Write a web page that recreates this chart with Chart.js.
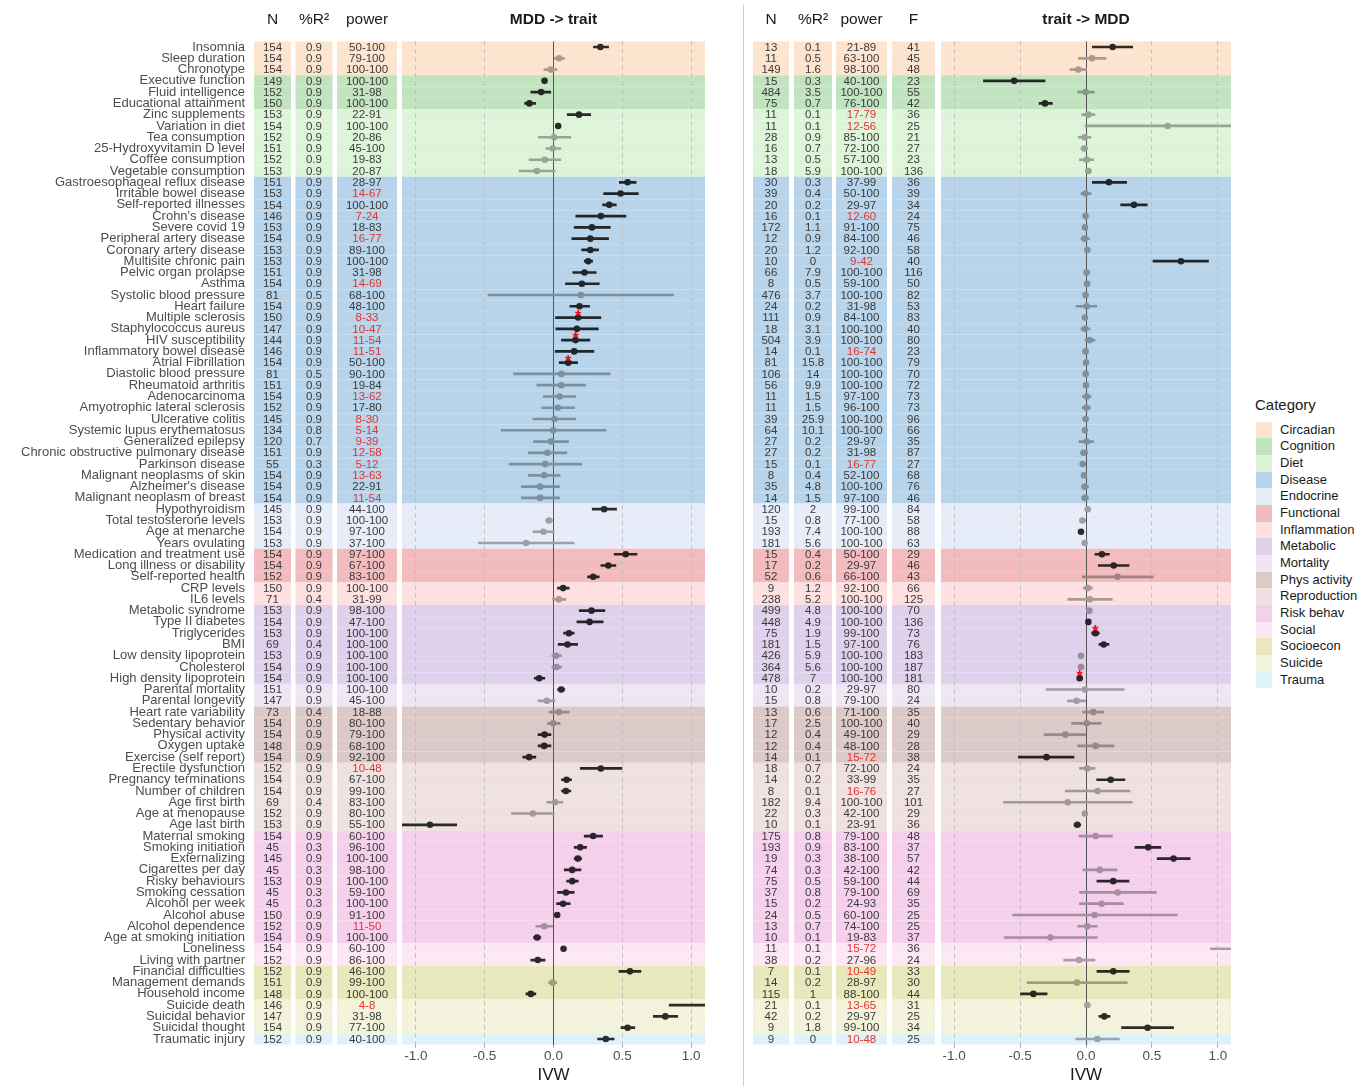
<!DOCTYPE html>
<html>
<head>
<meta charset="utf-8">
<script src="https://cdn.jsdelivr.net/npm/chart.js@4.4.1/dist/chart.umd.min.js"></script>
<style>
  body { margin: 0; background: #fff; font-family: "Liberation Sans", Arial, Helvetica, sans-serif; }
  #wrap { position: relative; width: 1371px; height: 1086px; overflow: hidden; }
  canvas { position: absolute; top: 0; }
  #left { left: 0; }
  #right { left: 745px; }
  #sep { position: absolute; left: 743px; top: 4px; width: 1px; height: 1082px; background: #d0d0d0; }
  #legend { position: absolute; left: 1255px; top: 396px; color: #1a1a1a; width: 116px; height: 300px; }
  #legend .lt { position: absolute; left: 0; top: 0; font-size: 15px; line-height: 18px; white-space: nowrap; }
  #legend .it { position: absolute; left: 0; height: 16.67px; width: 116px; }
  #legend .sw { position: absolute; left: 1px; top: 0; width: 16px; height: 16.67px; }
  #legend .tx { position: absolute; left: 25px; top: 0; font-size: 13px; line-height: 16.67px; white-space: nowrap; }
</style>
</head>
<body>
<div id="wrap">
  <canvas id="left" width="712" height="1086"></canvas>
  <div id="sep"></div>
  <canvas id="right" width="490" height="1086"></canvas>
  <div id="legend"></div>
</div>
<script>
// ---- data ----
var traits = [
  "Insomnia", "Sleep duration", "Chronotype",
  "Executive function", "Fluid intelligence", "Educational attainment",
  "Zinc supplements", "Variation in diet", "Tea consumption", "25-Hydroxyvitamin D level", "Coffee consumption", "Vegetable consumption",
  "Gastroesophageal reflux disease", "Irritable bowel disease", "Self-reported illnesses", "Crohn's disease", "Severe covid 19",
  "Peripheral artery disease", "Coronary artery disease", "Multisite chronic pain", "Pelvic organ prolapse", "Asthma",
  "Systolic blood pressure", "Heart failure", "Multiple sclerosis", "Staphylococcus aureus", "HIV susceptibility",
  "Inflammatory bowel disease", "Atrial Fibrillation", "Diastolic blood pressure", "Rheumatoid arthritis", "Adenocarcinoma",
  "Amyotrophic lateral sclerosis", "Ulcerative colitis", "Systemic lupus erythematosus", "Generalized epilepsy",
  "Chronic obstructive pulmonary disease", "Parkinson disease", "Malignant neoplasms of skin", "Alzheimer's disease",
  "Malignant neoplasm of breast",
  "Hypothyroidism", "Total testosterone levels", "Age at menarche", "Years ovulating",
  "Medication and treatment use", "Long illness or disability", "Self-reported health",
  "CRP levels", "IL6 levels",
  "Metabolic syndrome", "Type II diabetes", "Triglycerides", "BMI", "Low density lipoprotein", "Cholesterol", "High density lipoprotein",
  "Parental mortality", "Parental longevity",
  "Heart rate variability", "Sedentary behavior", "Physical activity", "Oxygen uptake", "Exercise (self report)",
  "Erectile dysfunction", "Pregnancy terminations", "Number of children", "Age first birth", "Age at menopause", "Age last birth",
  "Maternal smoking", "Smoking initiation", "Externalizing", "Cigarettes per day", "Risky behaviours", "Smoking cessation",
  "Alcohol per week", "Alcohol abuse", "Alcohol dependence", "Age at smoking initiation",
  "Loneliness", "Living with partner",
  "Financial difficulties", "Management demands", "Household income",
  "Suicide death", "Suicidal behavior", "Suicidal thought",
  "Traumatic injury"
];

var categoryNames = ["Circadian", "Cognition", "Diet", "Disease", "Endocrine", "Functional", "Inflammation", "Metabolic",
  "Mortality", "Phys activity", "Reproduction", "Risk behav", "Social", "Socioecon", "Suicide", "Trauma"];
var categorySizes = [3, 3, 6, 29, 4, 3, 2, 7, 2, 5, 6, 10, 2, 3, 3, 1];
var categoryColors = ["#fde4cf", "#c1e3bf", "#def4d9", "#b8d4ea", "#e6edf8", "#f2bcbe", "#fde0e1", "#dfd0eb",
  "#ede6f3", "#dccac8", "#efe1df", "#f5d0ec", "#fce7f3", "#e9e8bd", "#f3f3dc", "#dff2f8"];

var xTicks = [-1, -0.5, 0, 0.5, 1];

// MDD -> trait
var mddN = [154,154,154,149,152,150,153,154,152,151,152,153,151,153,154,146,153,154,153,153,151,154,81,154,150,147,144,146,154,81,
  151,154,152,145,134,120,151,55,154,154,154,145,153,154,153,154,154,152,150,71,153,154,153,69,153,154,154,151,147,73,
  154,154,148,154,152,154,154,69,152,153,154,45,145,45,153,45,45,150,152,154,154,152,152,151,148,146,147,154,152];
var mddR2 = [0.9,0.9,0.9,0.9,0.9,0.9,0.9,0.9,0.9,0.9,0.9,0.9,0.9,0.9,0.9,0.9,0.9,0.9,0.9,0.9,0.9,0.9,0.5,0.9,0.9,0.9,0.9,0.9,0.9,0.5,
  0.9,0.9,0.9,0.9,0.8,0.7,0.9,0.3,0.9,0.9,0.9,0.9,0.9,0.9,0.9,0.9,0.9,0.9,0.9,0.4,0.9,0.9,0.9,0.4,0.9,0.9,0.9,0.9,0.9,0.4,
  0.9,0.9,0.9,0.9,0.9,0.9,0.9,0.4,0.9,0.9,0.9,0.3,0.9,0.3,0.9,0.3,0.3,0.9,0.9,0.9,0.9,0.9,0.9,0.9,0.9,0.9,0.9,0.9,0.9];
var mddPower = ["50-100","79-100","100-100","100-100","31-98","100-100","22-91","100-100","20-86","45-100","19-83","20-87",
  "28-97","14-67","100-100","7-24","18-83","16-77","89-100","100-100","31-98","14-69","68-100","48-100","8-33","10-47","11-54",
  "11-51","50-100","90-100","19-84","13-62","17-80","8-30","5-14","9-39","12-58","5-12","13-63","22-91","11-54",
  "44-100","100-100","97-100","37-100","97-100","67-100","83-100","100-100","31-99","98-100","47-100","100-100","100-100",
  "100-100","100-100","100-100","100-100","45-100","18-88","80-100","79-100","68-100","92-100","10-48","67-100","99-100",
  "83-100","80-100","55-100","60-100","96-100","100-100","98-100","100-100","59-100","100-100","91-100","11-50","100-100",
  "60-100","86-100","46-100","99-100","100-100","4-8","31-98","77-100","40-100"];
var mddEst = [0.34,0.04,-0.02,-0.065,-0.09,-0.175,0.185,0.034,0.005,-0.005,-0.063,-0.12,
  0.538,0.487,0.405,0.344,0.279,0.267,0.267,0.252,0.225,0.206,0.199,0.189,0.179,0.17,0.16,0.15,0.107,0.058,0.056,0.044,
  0.032,0.007,-0.002,-0.019,-0.044,-0.061,-0.068,-0.097,-0.097,
  0.368,-0.032,-0.073,-0.199,0.524,0.398,0.288,0.07,0.039,0.276,0.262,0.112,0.102,0.019,0.022,-0.104,0.056,-0.048,
  0.039,-0.002,-0.065,-0.068,-0.177,0.344,0.095,0.09,0.01,-0.15,-0.897,
  0.288,0.194,0.177,0.136,0.136,0.09,0.07,0.027,-0.068,-0.119,0.073,-0.114,0.555,-0.007,-0.165,1.3,0.812,0.538,0.38];
var mddLo = [0.29,0.005,-0.07,-0.08,-0.165,-0.21,0.10,0.02,-0.11,-0.056,-0.177,-0.25,
  0.478,0.364,0.356,0.162,0.15,0.133,0.204,0.223,0.14,0.087,-0.475,0.119,0.015,0.017,0.058,0.012,0.041,-0.29,-0.121,-0.075,
  -0.085,-0.15,-0.38,-0.145,-0.184,-0.322,-0.184,-0.233,-0.233,
  0.281,-0.058,-0.148,-0.545,0.44,0.344,0.247,0.029,-0.007,0.187,0.17,0.073,0.034,-0.012,-0.012,-0.14,0.03,-0.112,
  -0.032,-0.044,-0.112,-0.112,-0.223,0.194,0.058,0.058,-0.048,-0.305,-1.12,
  0.223,0.15,0.15,0.078,0.095,0.029,0.022,0.015,-0.128,-0.145,0.06,-0.165,0.475,-0.036,-0.2,0.84,0.725,0.49,0.32];
var mddHi = [0.40,0.08,0.025,-0.05,-0.02,-0.13,0.27,0.05,0.126,0.053,0.053,0.012,
  0.60,0.616,0.456,0.526,0.412,0.40,0.327,0.284,0.31,0.332,0.873,0.262,0.344,0.325,0.264,0.293,0.175,0.412,0.233,0.162,
  0.153,0.162,0.38,0.109,0.097,0.206,0.048,0.044,0.044,
  0.458,-0.007,0.005,0.15,0.606,0.453,0.332,0.114,0.09,0.373,0.361,0.15,0.175,0.058,0.058,-0.063,0.082,0.01,
  0.114,0.048,-0.019,-0.019,-0.128,0.497,0.131,0.126,0.068,0.005,-0.703,
  0.356,0.24,0.204,0.199,0.18,0.15,0.121,0.04,-0.007,-0.092,0.085,-0.061,0.635,0.024,-0.128,1.8,0.902,0.59,0.44];
var mddSig = [1,0,0,1,1,1,1,1,0,0,0,0, 1,1,1,1,1,1,1,1,1,1,0,1,1,1,1,1,1,0,0,0,0,0,0,0,0,0,0,0,0,
  1,0,0,0,1,1,1,1,0,1,1,1,1,0,0,1,1,0, 0,0,1,1,1,1,1,1,0,0,1, 1,1,1,1,1,1,1,1,0,1,1,1,1,0,1,1,1,1,1];
var mddStar = ["Multiple sclerosis", "HIV susceptibility", "Atrial Fibrillation"];

// trait -> MDD
var trtN = [13,11,149,15,484,75,11,11,28,16,13,18,30,39,20,16,172,12,20,10,66,8,476,24,111,18,504,14,81,106,56,11,11,39,64,
  27,27,15,8,35,14,120,15,193,181,15,17,52,9,238,499,448,75,181,426,364,478,10,15,13,17,12,12,14,18,14,8,182,22,10,
  175,193,19,74,75,37,15,24,13,10,11,38,7,14,115,21,42,9,9];
var trtR2 = [0.1,0.5,1.6,0.3,3.5,0.7,0.1,0.1,0.9,0.7,0.5,5.9,0.3,0.4,0.2,0.1,1.1,0.9,1.2,0,7.9,0.5,3.7,0.2,0.9,3.1,3.9,0.1,
  15.8,14,9.9,1.5,1.5,25.9,10.1,0.2,0.2,0.1,0.4,4.8,1.5,2,0.8,7.4,5.6,0.4,0.2,0.6,1.2,5.2,4.8,4.9,1.9,1.5,5.9,5.6,7,0.2,0.8,
  0.6,2.5,0.4,0.4,0.1,0.7,0.2,0.1,9.4,0.3,0.1,0.8,0.9,0.3,0.3,0.5,0.8,0.2,0.5,0.7,0.1,0.1,0.2,0.1,0.2,1,0.1,0.2,1.8,0];
var trtPower = ["21-89","63-100","98-100","40-100","100-100","76-100","17-79","12-56","85-100","72-100","57-100","100-100",
  "37-99","50-100","29-97","12-60","91-100","84-100","92-100","9-42","100-100","59-100","100-100","31-98","84-100","100-100",
  "100-100","16-74","100-100","100-100","100-100","97-100","96-100","100-100","100-100","29-97","31-98","16-77","52-100",
  "100-100","97-100","99-100","77-100","100-100","100-100","50-100","29-97","66-100","92-100","100-100","100-100","100-100",
  "99-100","97-100","100-100","100-100","100-100","29-97","79-100","71-100","100-100","49-100","48-100","15-72","72-100",
  "33-99","16-76","100-100","42-100","23-91","79-100","83-100","38-100","42-100","59-100","79-100","24-93","60-100","74-100",
  "19-83","15-72","27-96","10-49","28-97","88-100","13-65","29-97","99-100","10-48"];
var trtF = [41,45,48,23,55,42,36,25,21,27,23,136,36,39,34,24,75,46,58,40,116,50,82,53,83,40,80,23,79,70,72,73,73,96,66,35,87,
  27,68,76,46,84,58,88,63,29,46,43,66,125,70,136,73,76,183,187,181,80,24,35,40,29,28,38,24,35,27,101,29,36,48,37,57,42,44,
  69,35,25,25,37,36,24,33,30,44,31,25,34,25];
var trtEst = [0.202,0.045,-0.058,-0.545,-0.003,-0.311,0.018,0.619,-0.01,-0.013,0.005,0.018,
  0.174,-0.003,0.364,-0.003,-0.008,-0.01,0.01,0.72,0.005,0.008,-0.003,0.005,-0.008,-0.008,0.028,-0.003,0,-0.003,0,0.005,
  0.003,-0.003,-0.008,0.005,-0.018,-0.025,-0.015,-0.01,-0.008,
  0.013,-0.028,-0.038,-0.01,0.121,0.21,0.24,0.013,0.03,0.025,0.018,0.071,0.134,-0.038,-0.038,-0.048,-0.008,-0.071,
  0.056,0.005,-0.157,0.073,-0.3,0.01,0.187,0.088,-0.139,-0.008,-0.066,
  0.073,0.472,0.664,0.104,0.207,0.24,0.119,0.066,0.01,-0.27,1.3,-0.053,0.207,-0.068,-0.399,0.01,0.139,0.467,0.086];
var trtLo = [0.048,-0.058,-0.121,-0.778,-0.063,-0.356,-0.033,-0.008,-0.058,-0.038,-0.05,-0.003,
  0.048,-0.038,0.263,-0.013,-0.018,-0.038,0,0.508,-0.005,-0.002,-0.011,-0.076,-0.018,-0.038,-0.008,-0.013,-0.01,-0.013,-0.01,
  -0.028,-0.028,-0.013,-0.018,-0.053,-0.038,-0.035,-0.025,-0.033,-0.033,
  0.003,-0.045,-0.048,-0.02,0.068,0.093,-0.028,-0.02,-0.139,0.015,0.01,0.043,0.098,-0.048,-0.048,-0.063,-0.303,-0.141,
  -0.025,-0.109,-0.318,-0.063,-0.513,-0.05,0.081,-0.157,-0.626,-0.018,-0.091,
  -0.053,0.371,0.54,-0.023,0.083,-0.05,-0.05,-0.556,-0.063,-0.621,0.944,-0.169,0.083,-0.447,-0.497,0,0.098,0.27,-0.078];
var trtHi = [0.354,0.152,0.005,-0.311,0.063,-0.255,0.068,1.25,0.038,0.013,0.058,0.038,
  0.308,0.038,0.465,0.007,0.002,0.025,0.02,0.929,0.015,0.018,0.005,0.081,0.002,0.03,0.068,0.007,0.01,0.007,0.01,
  0.038,0.035,0.007,0.002,0.056,0.013,-0.015,-0.005,0.018,0.018,
  0.023,-0.003,-0.028,0,0.177,0.326,0.51,0.048,0.2,0.035,0.026,0.101,0.174,-0.028,-0.028,-0.028,0.29,0,
  0.136,0.114,0,0.212,-0.091,0.068,0.295,0.333,0.351,0.002,-0.04,
  0.2,0.568,0.79,0.235,0.326,0.535,0.283,0.692,0.086,0.086,1.7,0.068,0.328,0.313,-0.295,0.02,0.182,0.664,0.253];
var trtSig = [1,0,0,1,0,1,0,0,0,0,0,0, 1,0,1,0,0,0,0,1,0,0,0,0,0,0,0,0,0,0,0,0,0,0,0,0,0,0,0,0,0,
  0,0,1,0,1,1,0,0,0,0,1,1,1,0,0,1,0,0, 0,0,0,0,1,0,1,0,0,0,1, 0,1,1,0,1,0,0,0,0,0,0,0,1,0,1,0,1,1,0];
var trtStar = ["Triglycerides", "High density lipoprotein"];

// ---- style ----
var FONT = "'Liberation Sans', Arial, Helvetica, sans-serif";
var TXT = "#3a3a3a";
var RED = "#e3342f";
var TOP = 41.4, BOTTOM = 41.4;

var rowColor = [];
categorySizes.forEach(function (n, k) {
  for (var j = 0; j < n; j++) rowColor.push(categoryColors[k]);
});

// blend black over the band colour so points and lines stay opaque
function shade(hex, a) {
  var r = parseInt(hex.substr(1, 2), 16), g = parseInt(hex.substr(3, 2), 16), b = parseInt(hex.substr(5, 2), 16);
  return "rgb(" + Math.round(r * (1 - a)) + "," + Math.round(g * (1 - a)) + "," + Math.round(b * (1 - a)) + ")";
}
function markColors(sig) {
  return sig.map(function (s, i) { return shade(rowColor[i], s ? 0.82 : 0.32); });
}
function powerColor(s) {
  return +s.split("-")[1] < 80 ? RED : TXT;
}

function tablePlugin(cols, title, est, stars) {
  return {
    id: "table",
    beforeDraw: function (chart) {
      var ctx = chart.ctx, y = chart.scales.y, area = chart.chartArea;
      var h = (y.bottom - y.top) / traits.length;
      ctx.save();
      traits.forEach(function (t, i) {
        var py = y.getPixelForValue(i);
        ctx.fillStyle = rowColor[i];
        cols.forEach(function (c) { ctx.fillRect(c.x0, py - h / 2, c.x1 - c.x0, h); });
        ctx.fillRect(area.left, py - h / 2, area.right - area.left, h);
      });
      ctx.restore();
    },
    afterDraw: function (chart) {
      var ctx = chart.ctx, y = chart.scales.y, x = chart.scales.x, area = chart.chartArea;
      ctx.save();
      ctx.textAlign = "center";
      ctx.textBaseline = "middle";
      // column values
      ctx.font = "11.5px " + FONT;
      cols.forEach(function (c) {
        var cx = (c.x0 + c.x1) / 2;
        c.vals.forEach(function (v, i) {
          ctx.fillStyle = c.power ? powerColor(v) : TXT;
          ctx.fillText(String(v), cx, y.getPixelForValue(i) + 0.5);
        });
      });
      // headers
      ctx.fillStyle = "#1a1a1a";
      ctx.font = "15.5px " + FONT;
      cols.forEach(function (c) { ctx.fillText(c.head, (c.x0 + c.x1) / 2, 20); });
      ctx.font = "bold 15.5px " + FONT;
      ctx.fillText(title, (area.left + area.right) / 2, 20);
      // red asterisks
      ctx.fillStyle = "#ff0000";
      ctx.font = "bold 16px " + FONT;
      ctx.textBaseline = "alphabetic";
      traits.forEach(function (t, i) {
        if (stars.indexOf(t) >= 0) {
          ctx.fillText("*", x.getPixelForValue(est[i]), y.getPixelForValue(i) + 4);
        }
      });
      ctx.restore();
    }
  };
}

function forest(id, o) {
  var colors = markColors(o.sig);
  return new Chart(document.getElementById(id), {
    type: "bar",
    data: {
      labels: traits,
      datasets: [
        {
          type: "bar",
          data: o.lo.map(function (l, i) { return [l, o.hi[i]]; }),
          backgroundColor: colors,
          barThickness: 2,
          borderWidth: 0
        },
        {
          type: "scatter",
          data: o.est.map(function (e, i) { return { x: e, y: traits[i] }; }),
          pointRadius: 3.3,
          pointBackgroundColor: colors,
          pointBorderWidth: 0
        }
      ]
    },
    options: {
      responsive: false,
      animation: false,
      events: [],
      indexAxis: "y",
      layout: { padding: { left: 0, right: o.padRight, top: TOP, bottom: 0 } },
      plugins: { legend: { display: false }, tooltip: { enabled: false } },
      scales: {
        x: {
          type: "linear", min: -1.1, max: 1.1,
          afterBuildTicks: function (s) { s.ticks = xTicks.map(function (v) { return { value: v }; }); },
          afterFit: function (s) { s.height = BOTTOM; s.paddingLeft = 0; s.paddingRight = 0; },
          grid: {
            color: function (c) { return c.tick && c.tick.value === 0 ? "#555555" : "#bdbdbd"; },
            lineWidth: 1, drawTicks: true, tickLength: 3, tickColor: "#a0a0a0"
          },
          border: { display: false, dash: function (c) { return c.tick && c.tick.value === 0 ? [] : [4, 4]; } },
          ticks: {
            callback: function (v) { return Number(v).toFixed(1); },
            color: "#4d4d4d", font: { size: 13.5, family: FONT }, padding: 1, maxRotation: 0
          },
          title: { display: true, text: "IVW", color: "#1a1a1a", font: { size: 17, family: FONT }, padding: { top: 0, bottom: 0 } }
        },
        y: {
          type: "category", labels: traits, offset: true,
          afterFit: function (s) { s.width = o.yWidth; s.paddingTop = 0; s.paddingBottom = 0; },
          grid: { display: false, drawTicks: false },
          border: { display: false },
          ticks: { display: o.showLabels, autoSkip: false, padding: 157, color: "#4d4d4d", font: { size: 13, family: FONT } }
        }
      }
    },
    plugins: [tablePlugin(o.cols, o.title, o.est, o.stars)]
  });
}

forest("left", {
  est: mddEst, lo: mddLo, hi: mddHi, sig: mddSig, stars: mddStar,
  title: "MDD -> trait", padRight: 7, yWidth: 402, showLabels: true,
  cols: [
    { x0: 254, x1: 291, head: "N", vals: mddN },
    { x0: 295.5, x1: 332.5, head: "%R\u00b2", vals: mddR2 },
    { x0: 337, x1: 397, head: "power", vals: mddPower, power: true }
  ]
});

forest("right", {
  est: trtEst, lo: trtLo, hi: trtHi, sig: trtSig, stars: trtStar,
  title: "trait -> MDD", padRight: 4, yWidth: 196, showLabels: false,
  cols: [
    { x0: 8, x1: 44, head: "N", vals: trtN },
    { x0: 49, x1: 87, head: "%R\u00b2", vals: trtR2 },
    { x0: 91, x1: 142, head: "power", vals: trtPower, power: true },
    { x0: 147, x1: 190, head: "F", vals: trtF }
  ]
});

// legend
var legend = document.getElementById("legend");
var lt = document.createElement("div");
lt.className = "lt";
lt.textContent = "Category";
legend.appendChild(lt);
categoryNames.forEach(function (name, k) {
  var it = document.createElement("div");
  it.className = "it";
  it.style.top = (25.7 + k * 16.67) + "px";
  var sw = document.createElement("span");
  sw.className = "sw";
  sw.style.background = categoryColors[k];
  var tx = document.createElement("span");
  tx.className = "tx";
  tx.textContent = name;
  it.appendChild(sw);
  it.appendChild(tx);
  legend.appendChild(it);
});
</script>
</body>
</html>
